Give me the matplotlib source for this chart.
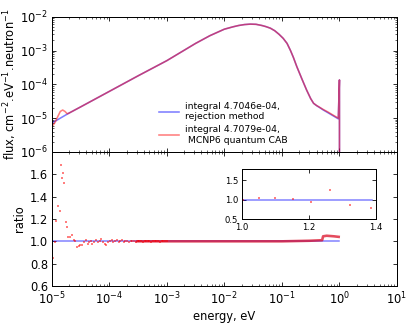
import numpy as np
import matplotlib
matplotlib.use("Agg")
import matplotlib.pyplot as plt

# ---------------- data ----------------
flux_E_blue = [1.00e-5, 1.41e-5, 1.95e-5, 3.16e-5, 1.0e-4, 3.16e-4, 1.0e-3, 3.16e-3, 5.62e-3,
               1.0e-2, 1.41e-2, 1.78e-2, 2.24e-2, 2.82e-2, 3.55e-2, 4.47e-2, 5.25e-2,
               6.31e-2, 7.5e-2, 8.91e-2, 0.105, 0.123, 0.141, 0.158, 0.182, 0.224, 0.269,
               0.316, 0.355, 0.40, 0.447, 0.525, 0.631, 0.794, 0.955, 1.0, 1.003]
flux_blue = [7.08e-6, 1.00e-5, 1.38e-5, 2.14e-5, 6.17e-5, 1.78e-4, 5.01e-4, 1.62e-3, 2.75e-3,
             4.27e-3, 5.01e-3, 5.50e-3, 5.85e-3, 6.03e-3, 5.95e-3, 5.50e-3, 5.10e-3,
             4.57e-3, 3.85e-3, 3.02e-3, 2.30e-3, 1.62e-3, 1.00e-3, 6.31e-4, 3.31e-4, 1.41e-4, 6.76e-5,
             3.80e-5, 2.75e-5, 2.35e-5, 2.09e-5, 1.74e-5, 1.45e-5, 1.15e-5, 9.55e-6, 1.35e-4, 1e-8]

flux_E_red = [1.00e-5, 1.12e-5, 1.26e-5, 1.41e-5, 1.55e-5, 1.70e-5, 1.86e-5, 1.95e-5,
              3.16e-5, 1.0e-4, 3.16e-4, 1.0e-3, 3.16e-3, 5.62e-3,
              1.0e-2, 1.41e-2, 1.78e-2, 2.24e-2, 2.82e-2, 3.55e-2, 4.47e-2, 5.25e-2,
              6.31e-2, 7.5e-2, 8.91e-2, 0.105, 0.123, 0.141, 0.158, 0.182, 0.224, 0.269,
              0.316, 0.355, 0.40, 0.447, 0.525, 0.631, 0.794, 0.955, 1.0, 1.003]
flux_red = [5.62e-6, 7.08e-6, 1.07e-5, 1.58e-5, 1.74e-5, 1.58e-5, 1.35e-5, 1.38e-5,
            2.14e-5, 6.17e-5, 1.78e-4, 5.01e-4, 1.62e-3, 2.75e-3,
            4.27e-3, 5.01e-3, 5.50e-3, 5.85e-3, 6.03e-3, 5.95e-3, 5.50e-3, 5.10e-3,
            4.57e-3, 3.85e-3, 3.02e-3, 2.30e-3, 1.62e-3, 1.00e-3, 6.31e-4, 3.31e-4, 1.41e-4, 6.76e-5,
            3.80e-5, 2.75e-5, 2.37e-5, 2.12e-5, 1.80e-5, 1.52e-5, 1.20e-5, 1.00e-5, 1.35e-4, 1e-8]

ratio_E = [1.00e-5, 1.07e-5, 1.15e-5, 1.19e-5, 1.30e-5, 1.39e-5, 1.45e-5, 1.51e-5, 1.58e-5,
           1.64e-5, 1.75e-5, 1.82e-5, 1.95e-5, 2.09e-5, 2.24e-5, 2.40e-5, 2.57e-5, 2.79e-5,
           2.95e-5, 3.16e-5, 3.39e-5, 3.63e-5, 3.98e-5, 4.2e-5, 4.5e-5, 4.8e-5, 5.1e-5, 5.5e-5,
           5.9e-5, 6.3e-5, 6.8e-5, 7.2e-5, 7.8e-5, 8.3e-5, 8.9e-5, 9.5e-5, 1.02e-4, 1.1e-4,
           1.17e-4, 1.26e-4, 1.35e-4, 1.45e-4, 1.55e-4, 1.66e-4, 1.78e-4, 1.9e-4, 2.05e-4,
           2.2e-4, 2.35e-4, 2.5e-4, 2.7e-4, 2.9e-4, 3.1e-4, 3.3e-4, 3.6e-4, 3.8e-4, 4.1e-4,
           4.4e-4, 4.7e-4, 5.0e-4, 5.4e-4, 5.8e-4, 6.2e-4, 6.6e-4, 7.1e-4, 7.6e-4, 8.1e-4,
           8.7e-4, 9.3e-4, 1.0e-3]
ratio_red = [0.77, 0.85, 0.99, 1.18, 1.32, 1.27, 1.68, 1.57, 1.61,
             1.52, 1.17, 1.13, 1.04, 1.04, 1.06, 1.01, 1.00, 0.95,
             0.96, 0.97, 0.97, 0.99, 1.01, 0.98, 0.99, 1.00, 0.98, 0.99,
             1.01, 0.99, 1.00, 1.02, 0.99, 0.98, 0.97, 0.99, 1.00, 1.01,
             0.99, 1.00, 1.01, 0.99, 1.00, 1.01, 0.995, 1.00, 1.005,
             0.995, 1.00, 1.005, 1.00, 0.995, 1.00, 1.005, 1.00, 0.995, 1.00,
             1.005, 1.00, 1.00, 0.995, 1.00, 1.005, 1.00, 1.00, 0.995, 1.00,
             1.00, 1.005, 1.00]
band_E = [3.0e-4, 1.0e-3, 1.0e-2, 0.1, 0.3, 0.50, 0.52, 0.60, 0.80, 0.97]
band_red = [1.00, 1.00, 1.00, 1.00, 1.005, 1.01, 1.045, 1.05, 1.045, 1.04]
ratio_blue_E = [1.0e-5, 1.0]
ratio_blue = [1.0, 1.0]

inset_E = [1.003, 1.052, 1.099, 1.152, 1.207, 1.264, 1.323, 1.386]
inset_red = [1.00, 1.03, 1.04, 1.01, 0.95, 1.24, 0.87, 0.79]
inset_blue_E = [1.0, 1.39]
inset_blue = [1.0, 1.0]

labels = ["integral 4.7046e-04,\nrejection method",
          "integral 4.7079e-04,\n MCNP6 quantum CAB"]

# ---------------- style ----------------
plt.rcParams.update({
    "font.family": "DejaVu Sans",
    "xtick.direction": "in", "ytick.direction": "in",
    "xtick.top": True, "ytick.right": True,
    "xtick.major.size": 4, "ytick.major.size": 4,
    "xtick.minor.size": 2, "ytick.minor.size": 2,
    "axes.linewidth": 1.0,
    "mathtext.default": "regular",
})
BLUE = (0, 0, 1, 0.5)
RED = (1, 0, 0, 0.5)
FS = 11.5

fig = plt.figure(figsize=(415 / 72, 324 / 72), dpi=72)
ax1 = fig.add_axes([0.1246, 0.5309, 0.832, 0.4176])
ax2 = fig.add_axes([0.1246, 0.1173, 0.832, 0.4136], sharex=ax1)

ax1.plot(flux_E_blue, flux_blue, color=BLUE, lw=1.6, label=labels[0])
ax1.plot(flux_E_red, flux_red, color=RED, lw=1.6, label=labels[1])
ax1.set_xscale("log")
ax1.set_yscale("log")
ax1.set_xlim(1e-5, 10)
ax1.set_ylim(1e-6, 1e-2)
ax1.tick_params(labelbottom=False, labelsize=FS)
ax1.set_ylabel("flux, cm$^{-2}$.eV$^{-1}$.neutron$^{-1}$", fontsize=FS, labelpad=1)
ax1.legend(loc="lower left", bbox_to_anchor=(0.31, 0.055), frameon=False,
           fontsize=9.2, handlelength=2.2, handletextpad=0.65, labelspacing=0.45,
           borderpad=0, borderaxespad=0)

ax2.plot(ratio_blue_E, ratio_blue, color=BLUE, lw=1.5)
ax2.plot(band_E, band_red, color=(0.85, 0, 0.1, 0.7), lw=2.6)
ax2.plot(ratio_E, ratio_red, ls="none", marker="s", ms=2.8, mew=0, color=RED)
ax2.set_ylim(0.6, 1.8)
ax2.set_yticks([0.6, 0.8, 1.0, 1.2, 1.4, 1.6])
ax2.set_xlim(1e-5, 10)
ax2.tick_params(labelsize=FS)
ax2.tick_params(axis="x", pad=5)
ax2.set_ylabel("ratio", fontsize=FS)
ax2.set_xlabel("energy, eV", fontsize=FS, labelpad=2)

ax3 = fig.add_axes([0.5824, 0.3231, 0.3229, 0.1553])
ax3.plot(inset_blue_E, inset_blue, color=BLUE, lw=1.5)
ax3.plot(inset_E, inset_red, ls="none", marker="s", ms=2.8, mew=0, color=RED)
ax3.set_xlim(1.0, 1.4)
ax3.set_ylim(0.5, 1.78)
ax3.set_xticks([1.0, 1.2, 1.4])
ax3.set_yticks([0.5, 1.0, 1.5])
ax3.tick_params(labelsize=8.5)

fig.savefig("out.png", dpi=72)
